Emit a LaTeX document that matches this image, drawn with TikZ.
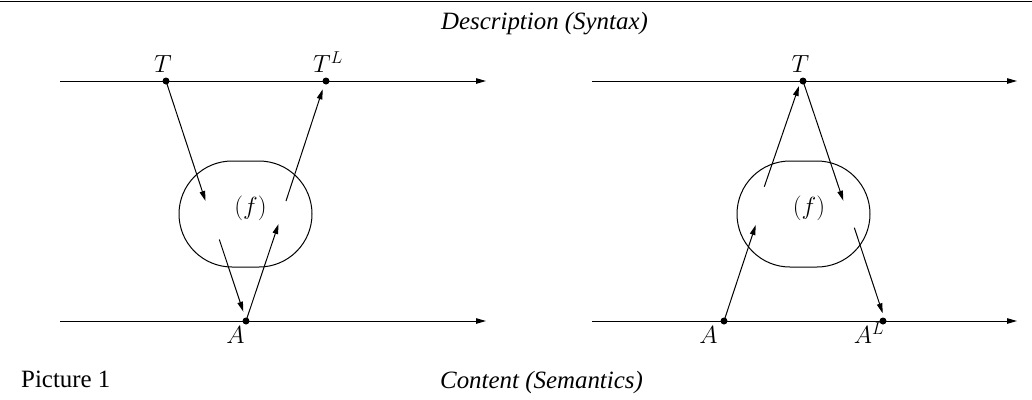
\documentclass[tikz,border=0pt]{standalone}
\usepackage{fontspec}
\setmainfont{Liberation Serif}
\usetikzlibrary{arrows.meta}
\tikzset{
  ln/.style={line width=1bp},
  arr/.style={ln, -{Triangle[length=10bp,width=5.5bp]}},
  dot/.style={circle, fill=black, inner sep=0pt, minimum size=7bp},
  txt/.style={inner sep=0pt, font=\fontsize{25}{30}\selectfont},
  blob/.style={ln, draw, rounded corners=53bp, minimum width=133bp, minimum height=106bp, inner sep=0pt},
}
\begin{document}
\begin{tikzpicture}[x=1bp,y=-1bp]
\useasboundingbox (0,0) rectangle (1032,399);
% top rule
\coordinate (r1) at (0,1.6);
\coordinate (r2) at (1032,1.6);
\draw[line width=1.3bp] (r1) -- (r2);
% captions
\node[txt, anchor=base] (desc) at (544.5,29) {\itshape Description (Syntax)};
\node[txt, anchor=base] (cont) at (541.5,388) {\itshape Content (Semantics)};
\node[txt, anchor=base west] (pic) at (21,387) {Picture 1};

% ---------- left panel ----------
\coordinate (l1s) at (60,81);  \coordinate (l1e) at (486,81);
\coordinate (l2s) at (60,321); \coordinate (l2e) at (486,321);
\draw[arr] (l1s) -- (l1e);
\draw[arr] (l2s) -- (l2e);
\node[blob] (fl) at (245.5,214) {};
\node[txt, anchor=base] (fll) at (250.5,214) {$(f)$};
\node[dot] (Tl) at (166,81) {};
\node[dot] (TLl) at (326,81) {};
\node[dot] (Al) at (246,321) {};
\node[txt, anchor=base] (Tlab) at (163,72) {$T$};
\node[txt, anchor=base] (TLlab) at (328,72) {$T^L$};
\node[txt, anchor=base] (Alab) at (235.5,343) {$A$};
\coordinate (a1e) at (205.5,201);
\coordinate (a2s) at (219.3,239.5);
\coordinate (a2e) at (243.3,311.7);
\coordinate (a3e) at (278.5,224);
\coordinate (a4s) at (286,201);
\coordinate (a4e) at (322.7,89.3);
\draw[arr] (Tl.center) -- (a1e);
\draw[arr] (a2s) -- (a2e);
\draw[arr] (Al.center) -- (a3e);
\draw[arr] (a4s) -- (a4e);

% ---------- right panel ----------
\coordinate (r1s) at (592,81);  \coordinate (r1e) at (1017,81);
\coordinate (r2s) at (592,321); \coordinate (r2e) at (1017,321);
\draw[arr] (r1s) -- (r1e);
\draw[arr] (r2s) -- (r2e);
\node[blob] (fr) at (803.5,214) {};
\node[txt, anchor=base] (frl) at (809,214) {$(f)$};
\node[dot] (Tr) at (803,81) {};
\node[dot] (Ar) at (724,321) {};
\node[dot] (ALr) at (883,321) {};
\node[txt, anchor=base] (Trlab) at (800.5,72) {$T$};
\node[txt, anchor=base] (Arlab) at (708.5,343) {$A$};
\node[txt, anchor=base] (ALrlab) at (869,343) {$A^L$};
\coordinate (b1e) at (755.7,225);
\coordinate (b2s) at (764.3,186.7);
\coordinate (b2e) at (799,86);
\coordinate (b3e) at (843.3,200.7);
\coordinate (b4s) at (854.3,227.7);
\coordinate (b4e) at (882.7,313.3);
\draw[arr] (Ar.center) -- (b1e);
\draw[arr] (b2s) -- (b2e);
\draw[arr] (Tr.center) -- (b3e);
\draw[arr] (b4s) -- (b4e);
\end{tikzpicture}
\end{document}
